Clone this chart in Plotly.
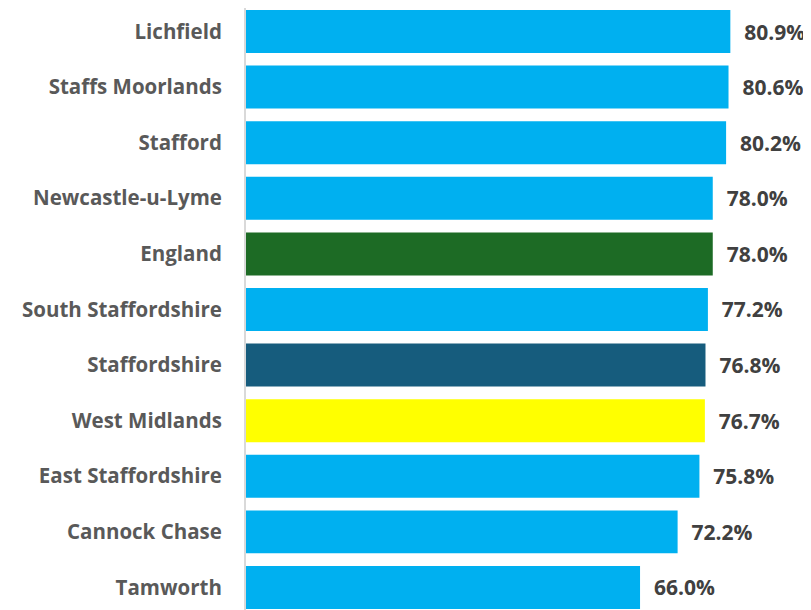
import plotly.graph_objects as go

areas = ["Lichfield", "Staffs Moorlands", "Stafford", "Newcastle-u-Lyme", "England",
         "South Staffordshire", "Staffordshire", "West Midlands", "East Staffordshire",
         "Cannock Chase", "Tamworth"]
values = [80.9, 80.6, 80.2, 78.0, 78.0, 77.2, 76.8, 76.7, 75.8, 72.2, 66.0]
colors = ["#00B0F0", "#00B0F0", "#00B0F0", "#00B0F0", "#1D6B25",
          "#00B0F0", "#165C7D", "#FFFF00", "#00B0F0", "#00B0F0", "#00B0F0"]

FONT = "Open Sans"

fig = go.Figure(go.Bar(
    x=values, y=areas, orientation="h",
    marker=dict(color=colors, line=dict(width=0)),
    text=["  %.1f%%" % v for v in values],
    textposition="outside",
    textfont=dict(family=FONT, size=21, color="#404040", weight=700),
    cliponaxis=False,
))

fig.update_layout(
    width=803, height=602,
    margin=dict(l=238, r=0, t=0, b=0),
    paper_bgcolor="white", plot_bgcolor="white",
    bargap=0.227,
    showlegend=False,
    xaxis=dict(range=[0.98, 94.21], showgrid=False, zeroline=False,
               showticklabels=False, showline=False, automargin=False),
    yaxis=dict(range=[10.405, -0.4227], showgrid=False, zeroline=False,
               showline=True, linecolor="#D9D9D9", linewidth=2,
               ticks="", ticklabelstandoff=18, automargin=False,
               tickfont=dict(family=FONT, size=20.5, color="#595959", weight=700)),
)

fig.write_html("out.html")
